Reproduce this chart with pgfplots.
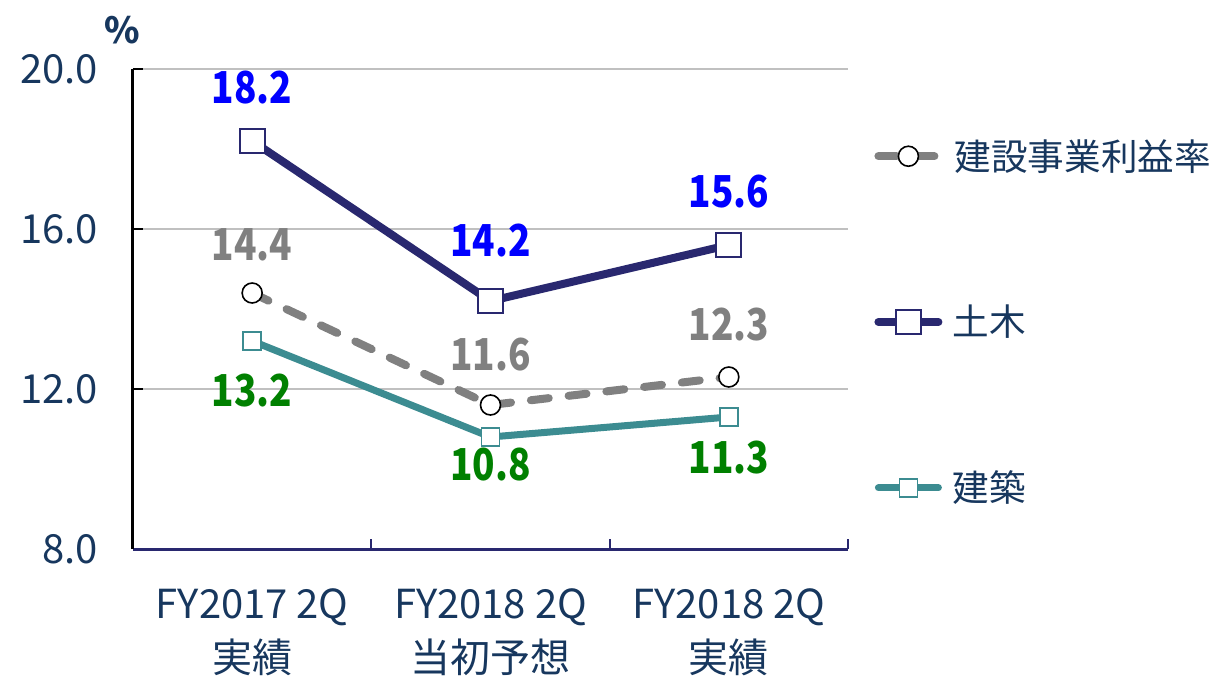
\documentclass[border=0pt]{standalone}
\usepackage{fontspec}
\setmainfont{Noto Sans CJK JP}
\newfontfamily\lblfont[FakeStretch=0.84]{Noto Sans CJK JP}
\usepackage{pgfplots}
\pgfplotsset{compat=1.18}
\usepackage{pgfplotstable}

\definecolor{navyline}{HTML}{29286F}
\definecolor{tealline}{HTML}{3C8C91}
\definecolor{grayline}{HTML}{808080}
\definecolor{textnavy}{HTML}{17375E}
\definecolor{gridgray}{HTML}{C0C0C0}
\definecolor{lblgreen}{HTML}{008000}
\definecolor{lblblue}{HTML}{0000FF}

\pgfkeys{/pgf/number format/assume math mode=true}

% x: category index, y: value, dy: label offset (pt)
\pgfplotstableread{
x y dy
0 14.4 24
1 11.6 25
2 12.3 26
}\total
\pgfplotstableread{
x y dy
0 18.2 26.5
1 14.2 30
2 15.6 26.5
}\doboku
\pgfplotstableread{
x y dy
0 13.2 -25
1 10.8 -14
2 11.3 -20.5
}\kenchiku

\begin{document}
\begin{tikzpicture}
\begin{axis}[
  scale only axis,
  width=357.5pt, height=240pt,
  xmin=-0.5, xmax=2.5,
  ymin=8, ymax=20,
  ytick={8,12,16,20},
  yticklabel={\pgfmathprintnumber[fixed,fixed zerofill,precision=1]{\tick}},
  xtick={0,1,2},
  xticklabels={FY2017 2Q\\実績, FY2018 2Q\\当初予想, FY2018 2Q\\実績},
  minor xtick={0.5,1.5,2.5},
  xtick style={draw=none},
  minor x tick style={draw=navyline, line width=1pt},
  ytick style={draw=black, line width=1pt},
  tick align=inside,
  major tick length=5pt, minor tick length=5pt,
  axis x line*=bottom, axis y line*=left,
  x axis line style={draw=navyline, line width=1.5pt},
  y axis line style={draw=black, line width=1.5pt},
  ymajorgrids=true,
  major grid style={draw=gridgray, line width=1pt},
  tick label style={text=textnavy, font=\fontsize{20}{27}\selectfont},
  xticklabel style={align=center, yshift=-16.5pt},
  yticklabel style={xshift=-14pt},
  clip=false,
  point meta=y,
  nodes near coords={\pgfmathprintnumber[fixed,fixed zerofill,precision=1]{\pgfplotspointmeta}},
  visualization depends on={\thisrow{dy} \as \dy},
  every node near coord/.append style={anchor=center, yshift=\dy pt,
    font=\lblfont\fontsize{22}{26}\selectfont\bfseries},
  legend style={draw=none, fill=none, at={(1.028,0.871)}, anchor=north west,
    font=\fontsize{18.3}{22}\selectfont, text=textnavy, row sep=62pt,
    /tikz/every even column/.append style={column sep=0pt}},
  legend cell align=left,
  legend image code/.code={\draw[#1, mark repeat=2, mark phase=2]
    plot coordinates {(0pt,0pt) (15pt,0pt) (30pt,0pt)};},
]
\addplot[grayline, line width=4pt, line cap=round, dash pattern=on 9pt off 10pt,
  mark=*, mark size=5pt, mark options={solid, fill=white, draw=black, line width=0.8pt},
  nodes near coords style={text=grayline}]
  table[x=x, y=y] {\total};
\addlegendentry{\ 建設事業利益率}
\addplot[navyline, line width=4pt, line cap=round,
  mark=square*, mark size=6.2pt, mark options={fill=white, draw=navyline, line width=1pt},
  nodes near coords style={text=lblblue}]
  table[x=x, y=y] {\doboku};
\addlegendentry{\,土木}
\addplot[tealline, line width=3.5pt, line cap=round,
  mark=square*, mark size=4.5pt, mark options={fill=white, draw=tealline, line width=0.7pt},
  nodes near coords style={text=lblgreen}]
  table[x=x, y=y] {\kenchiku};
\addlegendentry{\,建築}
\node[text=textnavy, font=\fontsize{18}{20}\selectfont\bfseries]
  at (axis description cs:-0.015,1.081) {\%};
\coordinate (sw) at (rel axis cs:0,0);
\end{axis}
\pgfresetboundingbox
\path[use as bounding box] (sw) ++(-66.5pt,-66pt) rectangle ++(608.5pt,340.5pt);
\end{tikzpicture}
\end{document}
